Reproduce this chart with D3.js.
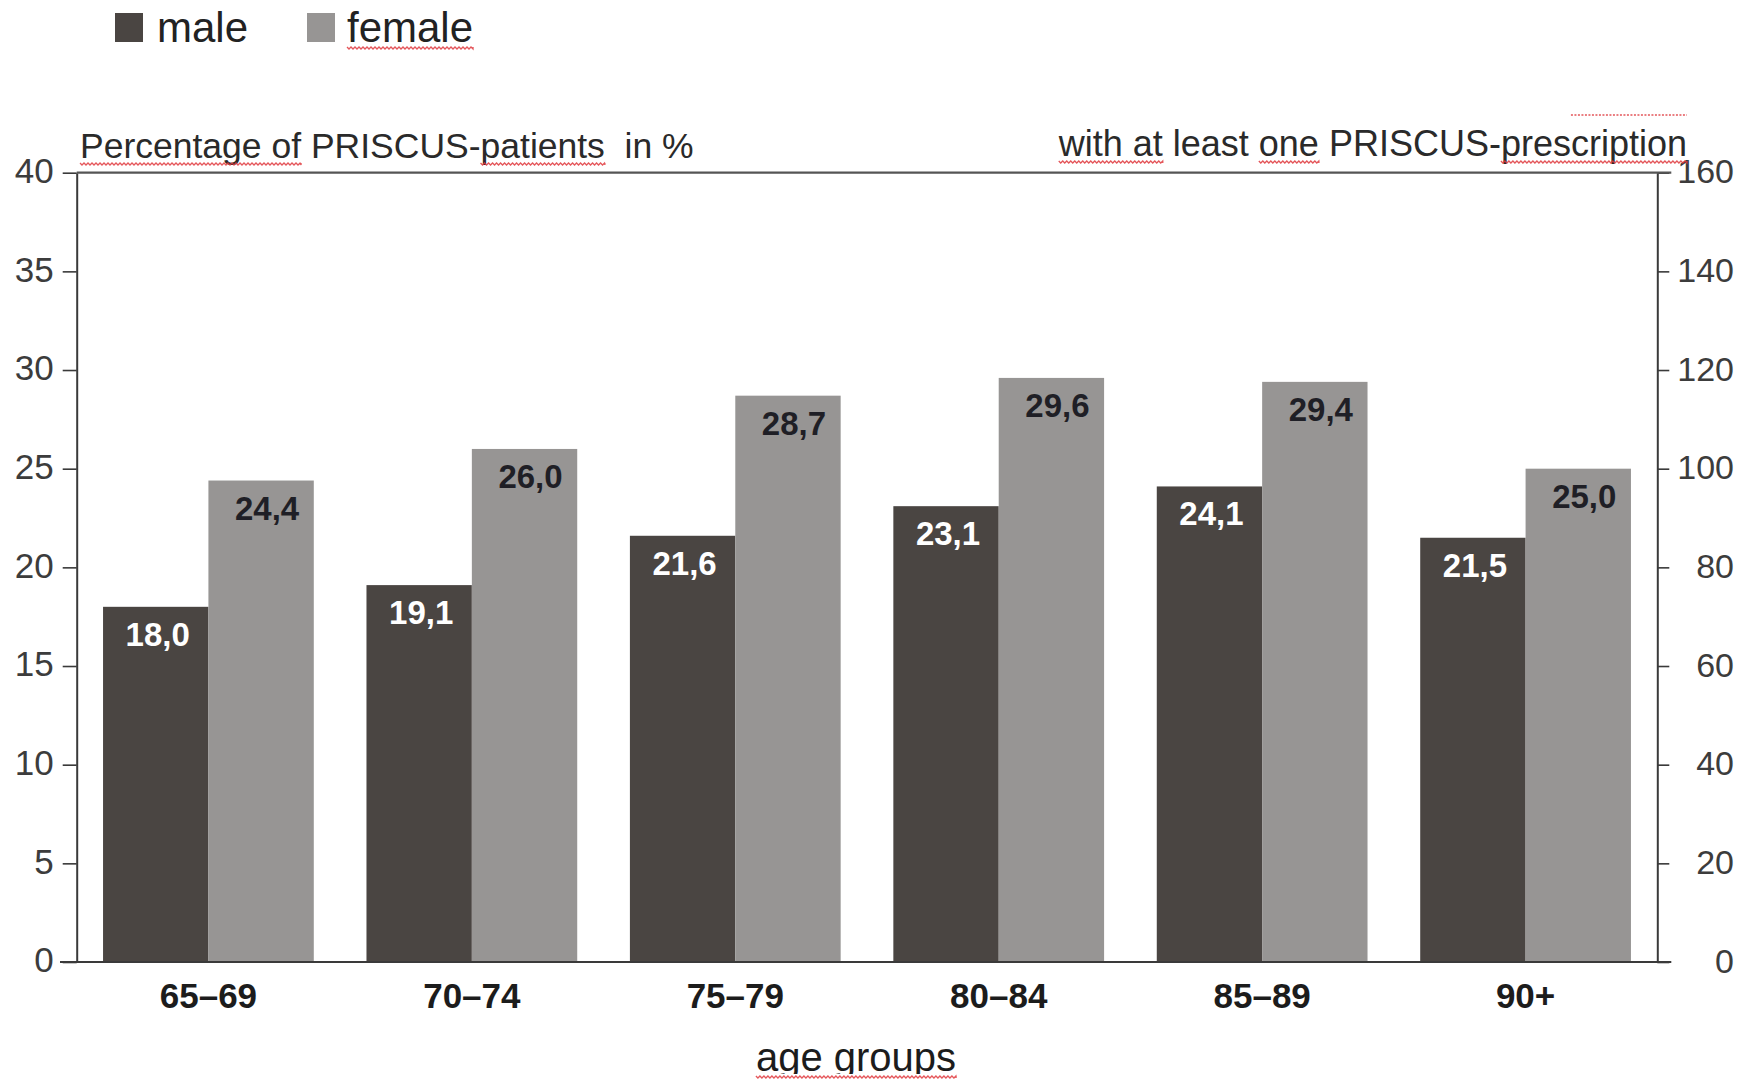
<!DOCTYPE html>
<html>
<head>
<meta charset="utf-8">
<script src="https://cdn.jsdelivr.net/npm/d3@7"></script>
<style>
  body { margin: 0; background: #fff; }
  svg { display: block; }
  text { font-family: "Liberation Sans", Arial, Helvetica, sans-serif; white-space: pre; }
</style>
</head>
<body>
<svg id="chart" width="1746" height="1082"></svg>
<script>
// Share of patients with at least one PRISCUS prescription, by age group and sex
const ageGroups = ["65–69", "70–74", "75–79", "80–84", "85–89", "90+"];
const maleValues = [18.0, 19.1, 21.6, 23.1, 24.1, 21.5];
const femaleValues = [24.4, 26.0, 28.7, 29.6, 29.4, 25.0];
const seriesNames = ["male", "female"];
const seriesColors = ["#4a4542", "#979594"];
const labelColors = ["#ffffff", "#1f1f26"];
const leftTicks = [0, 5, 10, 15, 20, 25, 30, 35, 40];
const rightTicks = [0, 20, 40, 60, 80, 100, 120, 140, 160];
const leftTitle = "Percentage of PRISCUS-patients  in %";
const rightTitle = "with at least one PRISCUS-prescription";
const xTitle = "age groups";

const svg = d3.select("#chart");
const W = 1746, H = 1082;
const plot = { left: 76.7, right: 1657.3, top: 172.7, bottom: 962 };
const axisColor = "#3a3a3a";
const textColor = "#2a2a2a";

const x = d3.scaleBand().domain(ageGroups)
  .range([plot.left, plot.right]).paddingInner(0.2).paddingOuter(0.1);
const xSeries = d3.scaleBand().domain(seriesNames).range([0, x.bandwidth()]);
const yLeft = d3.scaleLinear().domain([0, 40]).range([plot.bottom, plot.top]);
const yRight = d3.scaleLinear().domain([0, 160]).range([plot.bottom, plot.top]);

const rows = ageGroups.map((g, i) => ({ group: g, values: [maleValues[i], femaleValues[i]] }));
const fmt = v => d3.format(".1f")(v).replace(".", ",");

// bars
const groups = svg.append("g").selectAll("g").data(rows).join("g")
  .attr("transform", d => `translate(${x(d.group)},0)`);
groups.selectAll("rect")
  .data(d => d.values.map((v, k) => ({ key: seriesNames[k], k, v })))
  .join("rect")
  .attr("x", d => xSeries(d.key))
  .attr("width", xSeries.bandwidth())
  .attr("y", d => yLeft(d.v))
  .attr("height", d => yLeft(0) - yLeft(d.v))
  .attr("fill", d => seriesColors[d.k]);

// value labels inside the top of each bar
groups.selectAll("text.val")
  .data(d => d.values.map((v, k) => ({ key: seriesNames[k], k, v })))
  .join("text").attr("class", "val")
  .attr("x", d => xSeries(d.key) + xSeries.bandwidth() / 2 + (d.k === 0 ? 2 : 6))
  .attr("y", d => yLeft(d.v) + 39)
  .attr("text-anchor", "middle")
  .attr("font-size", 33).attr("font-weight", "bold")
  .attr("fill", d => labelColors[d.k])
  .text(d => fmt(d.v));

// left axis
const gl = svg.append("g").attr("transform", `translate(${plot.left},0)`)
  .call(d3.axisLeft(yLeft).tickValues(leftTicks).tickSize(14).tickSizeOuter(0).tickPadding(9));
gl.select(".domain").attr("stroke", axisColor).attr("stroke-width", 2);
gl.selectAll(".tick line").attr("stroke", axisColor).attr("stroke-width", 1.6);
gl.selectAll(".tick text").attr("font-size", 35).attr("fill", "#3c3c3c")
  .attr("font-family", null).attr("dy", "0.28em");

// right axis
const gr = svg.append("g").attr("transform", `translate(${plot.right},0)`)
  .call(d3.axisRight(yRight).tickValues(rightTicks).tickSize(12).tickSizeOuter(0));
gr.select(".domain").attr("stroke", axisColor).attr("stroke-width", 2);
gr.selectAll(".tick line").attr("stroke", axisColor).attr("stroke-width", 1.6);
gr.selectAll(".tick text").attr("font-size", 34).attr("fill", "#3c3c3c")
  .attr("font-family", null).attr("text-anchor", "end").attr("x", 1734 - plot.right)
  .attr("dy", "0.3em");

// top frame line and baseline
svg.append("line").attr("x1", plot.left).attr("x2", plot.right + 14)
  .attr("y1", plot.top).attr("y2", plot.top)
  .attr("stroke", "#555").attr("stroke-width", 2.2);
svg.append("line").attr("x1", 60).attr("x2", plot.right + 14)
  .attr("y1", plot.bottom).attr("y2", plot.bottom)
  .attr("stroke", axisColor).attr("stroke-width", 2);

// category axis labels
const gx = svg.append("g").attr("transform", `translate(0,${plot.bottom})`)
  .call(d3.axisBottom(x).tickSize(0).tickPadding(0));
gx.select(".domain").remove();
gx.selectAll(".tick text").attr("font-size", 35).attr("font-weight", "bold")
  .attr("font-family", null).attr("fill", "#1c1c1c").attr("y", 46).attr("dy", 0);

// axis titles
const tLeft = svg.append("text").attr("x", 80).attr("y", 158)
  .attr("font-size", 35.5).attr("fill", textColor).text(leftTitle);
const tRight = svg.append("text").attr("x", 1687).attr("y", 156).attr("text-anchor", "end")
  .attr("font-size", 36).attr("fill", textColor).text(rightTitle);

// the x title sits in a box that cuts off its descenders
svg.append("clipPath").attr("id", "xTitleClip")
  .append("rect").attr("x", 0).attr("y", 1000).attr("width", W).attr("height", 74);
const tX = svg.append("text").attr("x", 856).attr("y", 1071).attr("text-anchor", "middle")
  .attr("font-size", 40).attr("fill", "#1c1c1c").attr("clip-path", "url(#xTitleClip)")
  .text(xTitle);

// legend
const legend = svg.append("g");
const legendX = [115, 307];
seriesNames.forEach((name, k) => {
  legend.append("rect").attr("x", legendX[k]).attr("y", 13).attr("width", 28).attr("height", 29)
    .attr("fill", seriesColors[k]);
});
const lgMale = legend.append("text").attr("x", 157).attr("y", 42).attr("font-size", 42)
  .attr("fill", "#222").text(seriesNames[0]);
const lgFemale = legend.append("text").attr("x", 347).attr("y", 42).attr("font-size", 42)
  .attr("fill", "#222").text(seriesNames[1]);

// proofing squiggles under selected words
const squiggles = svg.append("g").attr("fill", "none").attr("stroke", "#e0393e")
  .attr("stroke-width", 1.3).attr("opacity", 0.85);
function wave(x0, x1, y) {
  let d = `M${x0},${y}`;
  for (let xx = x0; xx < x1; xx += 4) {
    d += `L${Math.min(xx + 2, x1)},${y + 2}L${Math.min(xx + 4, x1)},${y}`;
  }
  return d;
}
function underline(textSel, word, offset) {
  const node = textSel.node();
  const str = node.textContent;
  const i = str.indexOf(word);
  if (i < 0) return;
  const a = node.getStartPositionOfChar(i);
  const b = node.getEndPositionOfChar(i + word.length - 1);
  squiggles.append("path").attr("d", wave(a.x, b.x, a.y + offset));
}
underline(lgFemale, "female", 5);
underline(tLeft, "Percentage of", 5);
underline(tLeft, "patients", 5);
underline(tRight, "with at", 5);
underline(tRight, "one", 5);
underline(tRight, "prescription", 5);
underline(tX, "age groups", 5);
// dotted mark above the last word of the right title
(() => {
  const node = tRight.node();
  const i = rightTitle.indexOf("prescription") + 4;
  const a = node.getStartPositionOfChar(i);
  const b = node.getEndPositionOfChar(rightTitle.length - 1);
  squiggles.append("line").attr("x1", a.x).attr("x2", b.x)
    .attr("y1", 115).attr("y2", 115).attr("stroke-dasharray", "2,1.5");
})();
</script>
</body>
</html>
